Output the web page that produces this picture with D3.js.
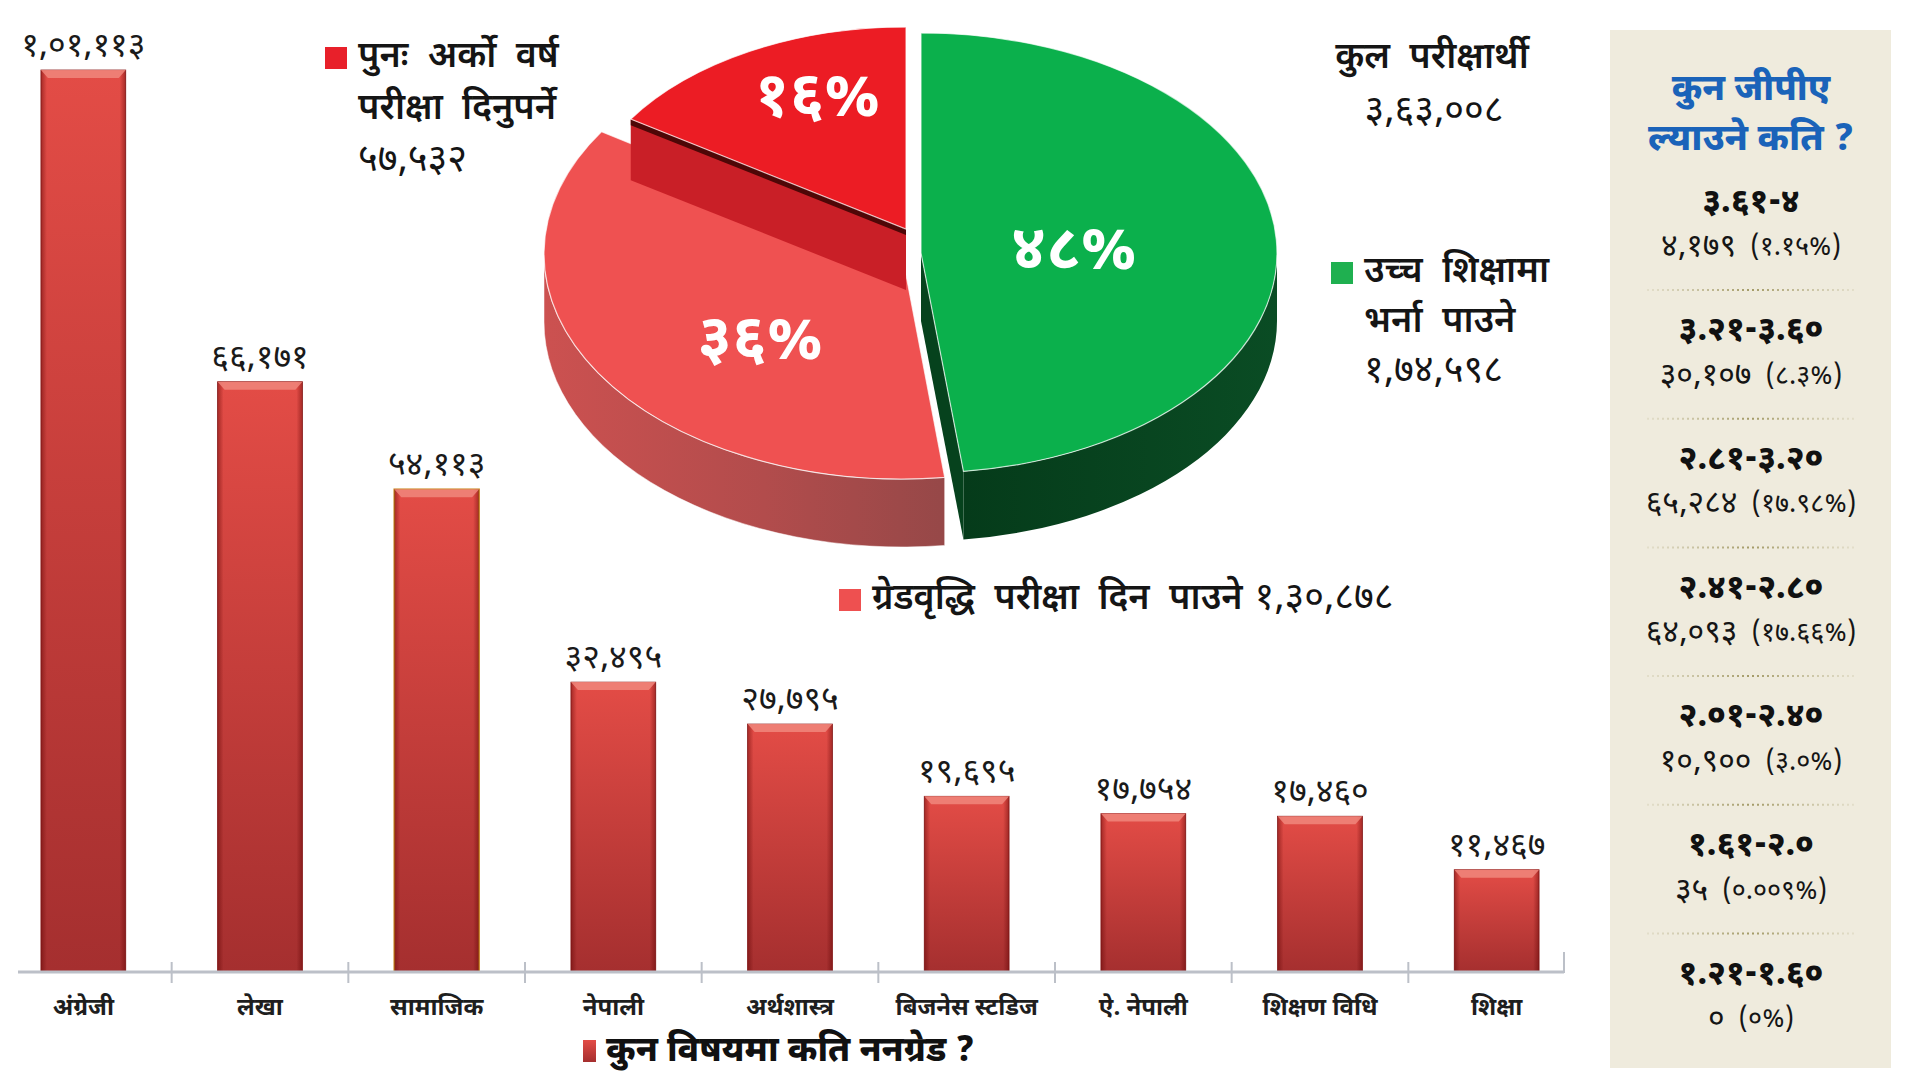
<!DOCTYPE html>
<html>
<head>
<meta charset="utf-8">
<script src="https://cdn.jsdelivr.net/npm/d3@7"></script>
<style>
  body { margin: 0; background: #fff; }
  svg text { font-family: "Noto Sans Devanagari", "Noto Sans", sans-serif; }
</style>
</head>
<body>
<div id="chart"></div>
<script>
// ---- data ----
// non-graded students by subject (bar chart)
const subjects = ["अंग्रेजी", "लेखा", "सामाजिक", "नेपाली", "अर्थशास्त्र", "बिजनेस स्टडिज", "ऐ. नेपाली", "शिक्षण विधि", "शिक्षा"];
const nonGraded = [101113, 66171, 54113, 32495, 27795, 19695, 17754, 17460, 11467];

// exam outcome (pie)
const outcomeNames = ["उच्च शिक्षामा भर्ना पाउने", "ग्रेडवृद्धि परीक्षा दिन पाउने", "पुनः अर्को वर्ष परीक्षा दिनुपर्ने"];
const outcomeCounts = [174598, 130878, 57532];

// GPA panel
const gpaRanges = ["3.61-4", "3.21-3.60", "2.81-3.20", "2.41-2.80", "2.01-2.40", "1.61-2.0", "1.21-1.60"];
const gpaCounts = [4179, 30107, 65284, 64093, 10900, 35, 0];
const gpaShares = ["1.15", "8.3", "17.98", "17.66", "3.0", "0.009", "0"];

// ---- helpers ----
const devDigits = "०१२३४५६७८९";
const toDev = s => String(s).replace(/[0-9]/g, d => devDigits[+d]);
// Nepali (lakh) grouping with devanagari digits
function nepNum(n) {
  let s = String(n);
  if (s.length <= 3) return toDev(s);
  const last = s.slice(-3);
  let rest = s.slice(0, -3);
  const parts = [];
  while (rest.length > 2) { parts.unshift(rest.slice(-2)); rest = rest.slice(0, -2); }
  if (rest) parts.unshift(rest);
  return toDev(parts.join(",") + "," + last);
}

const svg = d3.select("#chart").append("svg")
  .attr("width", 1920).attr("height", 1080)
  .style("display", "block");

const defs = svg.append("defs");

// bar gradients
const bg = defs.append("linearGradient").attr("id", "barGrad").attr("x1", 0).attr("y1", 0).attr("x2", 0).attr("y2", 1);
bg.append("stop").attr("offset", "0%").attr("stop-color", "#e34c46");
bg.append("stop").attr("offset", "100%").attr("stop-color", "#a52f2f");
const be = defs.append("linearGradient").attr("id", "barEdge").attr("x1", 0).attr("y1", 0).attr("x2", 1).attr("y2", 0);
be.append("stop").attr("offset", "0%").attr("stop-color", "#5a0000").attr("stop-opacity", 0.45);
be.append("stop").attr("offset", "7%").attr("stop-color", "#5a0000").attr("stop-opacity", 0);
be.append("stop").attr("offset", "93%").attr("stop-color", "#5a0000").attr("stop-opacity", 0);
be.append("stop").attr("offset", "100%").attr("stop-color", "#5a0000").attr("stop-opacity", 0.45);

// ---- bar chart ----
const baseY = 972;
const x = d3.scaleBand().domain(subjects).range([-5, 1585]).paddingInner(0.52).paddingOuter(0.26);
const y = d3.scaleLinear().domain([0, d3.max(nonGraded)]).range([baseY, 70]);

const bars = svg.append("g").attr("class", "bars");
const barData = subjects.map((s, i) => ({ s, v: nonGraded[i], i }));

bars.selectAll("rect.bar").data(barData).join("rect")
  .attr("class", "bar")
  .attr("x", d => x(d.s)).attr("width", x.bandwidth())
  .attr("y", d => y(d.v)).attr("height", d => baseY - y(d.v))
  .attr("fill", "url(#barGrad)")
  .attr("stroke", d => d.i === 2 ? "#c9821e" : "#8e2020")
  .attr("stroke-width", d => d.i === 2 ? 1.6 : 0.8);

bars.selectAll("rect.edge").data(barData).join("rect")
  .attr("class", "edge")
  .attr("x", d => x(d.s)).attr("width", x.bandwidth())
  .attr("y", d => y(d.v)).attr("height", d => baseY - y(d.v))
  .attr("fill", "url(#barEdge)");

// top bevel
bars.selectAll("path.bevel").data(barData).join("path")
  .attr("class", "bevel")
  .attr("d", d => {
    const x0 = x(d.s), x1 = x0 + x.bandwidth(), t = y(d.v);
    return `M${x0},${t}L${x1},${t}L${x1 - 7},${t + 8}L${x0 + 7},${t + 8}Z`;
  })
  .attr("fill", "#f0877d").attr("opacity", 0.85);

// value labels
bars.selectAll("text.val").data(barData).join("text")
  .attr("class", "val")
  .attr("x", d => x(d.s) + x.bandwidth() / 2)
  .attr("y", d => y(d.v) - 14)
  .attr("text-anchor", "middle")
  .attr("font-size", 34)
  .attr("fill", "#1a1a1a")
  .text(d => nepNum(d.v));

// axis
const axisG = svg.append("g").attr("transform", `translate(0,${baseY})`);
axisG.call(d3.axisBottom(x).tickSize(0).tickPadding(26));
axisG.select(".domain").remove();
axisG.selectAll(".tick text")
  .attr("font-size", 24).attr("font-weight", 700).attr("fill", "#1e1e1e")
  .style("font-family", "'Noto Sans Devanagari','Noto Sans',sans-serif");
axisG.append("line").attr("x1", 18).attr("x2", 1564).attr("y1", 0).attr("y2", 0)
  .attr("stroke", "#bcc0c8").attr("stroke-width", 3);
const step = x.step();
axisG.selectAll("line.bnd").data(subjects.slice(0, -1)).join("line")
  .attr("class", "bnd")
  .attr("x1", d => x(d) + x.bandwidth() + (step - x.bandwidth()) / 2)
  .attr("x2", d => x(d) + x.bandwidth() + (step - x.bandwidth()) / 2)
  .attr("y1", -10).attr("y2", 11)
  .attr("stroke", "#bcc0c8").attr("stroke-width", 2);
axisG.append("line").attr("x1", 1564).attr("x2", 1564).attr("y1", -20).attr("y2", 1)
  .attr("stroke", "#bcc0c8").attr("stroke-width", 2);

// bottom title
const tg = svg.append("g");
tg.append("rect").attr("x", 583).attr("y", 1040).attr("width", 13).attr("height", 22).attr("fill", "url(#barGrad)");
tg.append("text").attr("x", 606).attr("y", 1061)
  .attr("font-size", 35).attr("font-weight", 800).attr("fill", "#111")
  .text("कुन विषयमा कति ननग्रेड ?");

// ---- 3D pie ----
const pieArcs = d3.pie().sort(null).value(d => d)(outcomeCounts);
const total = d3.sum(outcomeCounts);
// per-slice placement of the tilted pie pieces
const sliceGeom = [
  { cx: 921, cy: 253, rx: 356, ry: 220, depth: 68, top: "#0bb04c", labelA: 90, labelR: 0.43 },
  { cx: 902, cy: 254, rx: 358, ry: 225, depth: 68, top: "#ef5151", labelA: 225, labelR: 0.56 },
  { cx: 906, cy: 229, rx: 328, ry: 202, depth: 61, top: "#ec1c24", labelA: 337, labelR: 0.69 }
];
const deg = Math.PI / 180;
const P = (g, a, dy = 0) => [g.cx + g.rx * Math.sin(a), g.cy - g.ry * Math.cos(a) + dy];

const gw = defs.append("linearGradient").attr("id", "greenWall").attr("x1", 0).attr("y1", 0).attr("x2", 1).attr("y2", 0);
gw.append("stop").attr("offset", "0%").attr("stop-color", "#053b1a");
gw.append("stop").attr("offset", "100%").attr("stop-color", "#0a4c24");
const rw = defs.append("linearGradient").attr("id", "redWall").attr("x1", 0).attr("y1", 0).attr("x2", 1).attr("y2", 0);
rw.append("stop").attr("offset", "0%").attr("stop-color", "#cc5150");
rw.append("stop").attr("offset", "55%").attr("stop-color", "#b24c4c");
rw.append("stop").attr("offset", "100%").attr("stop-color", "#964848");

function wallPath(g, a0, a1) {
  const b0 = Math.max(a0, 90 * deg), b1 = Math.min(a1, 270 * deg);
  if (b1 <= b0) return null;
  const p0 = P(g, b0), p1 = P(g, b1), q1 = P(g, b1, g.depth), q0 = P(g, b0, g.depth);
  return `M${p0}A${g.rx},${g.ry} 0 0 1 ${p1}L${q1}A${g.rx},${g.ry} 0 0 0 ${q0}Z`;
}
function radialFace(g, a) {
  const c = [g.cx, g.cy], e = P(g, a);
  return `M${c}L${e}L${e[0]},${e[1] + g.depth}L${c[0]},${c[1] + g.depth}Z`;
}

const pieG = svg.append("g").attr("class", "pie");
const unitArc = d3.arc().innerRadius(0).outerRadius(100);

function drawTop(i) {
  const g = sliceGeom[i];
  pieG.append("path")
    .attr("transform", `translate(${g.cx},${g.cy}) scale(${g.rx / 100},${g.ry / 100})`)
    .attr("d", unitArc(pieArcs[i]))
    .attr("fill", g.top)
    .attr("stroke", "#fff").attr("stroke-opacity", 0.7).attr("stroke-width", 1.2)
    .attr("vector-effect", "non-scaling-stroke");
}

// green slice
pieG.append("path").attr("d", wallPath(sliceGeom[0], pieArcs[0].startAngle, pieArcs[0].endAngle)).attr("fill", "url(#greenWall)");
pieG.append("path").attr("d", radialFace(sliceGeom[0], pieArcs[0].endAngle)).attr("fill", "#06421d");
drawTop(0);
// grade-increment slice
pieG.append("path").attr("d", wallPath(sliceGeom[1], pieArcs[1].startAngle, pieArcs[1].endAngle)).attr("fill", "url(#redWall)")
  .attr("stroke", "#fff").attr("stroke-opacity", 0.5).attr("stroke-width", 1);
drawTop(1);
// repeat-exam slice (raised piece, front face visible)
pieG.append("path").attr("d", radialFace(sliceGeom[2], pieArcs[2].startAngle)).attr("fill", "#c91f27");
{
  const g = sliceGeom[2], c = [g.cx, g.cy], e = P(g, pieArcs[2].startAngle);
  pieG.append("path").attr("d", `M${c}L${e}L${e[0]},${e[1] + 6}L${c[0]},${c[1] + 6}Z`).attr("fill", "#4e0707");
}
drawTop(2);

// percentage labels
pieG.selectAll("text.pct").data(pieArcs).join("text")
  .attr("class", "pct")
  .attr("x", (d, i) => { const g = sliceGeom[i]; return g.cx + g.rx * g.labelR * Math.sin(g.labelA * deg); })
  .attr("y", (d, i) => { const g = sliceGeom[i]; return g.cy - g.ry * g.labelR * Math.cos(g.labelA * deg); })
  .attr("text-anchor", "middle").attr("dominant-baseline", "central")
  .attr("font-size", 62).attr("font-weight", 700).attr("fill", "#fff")
  .text(d => toDev(Math.round(d.value / total * 100)) + "%");

// pie annotations
const ann = svg.append("g").attr("fill", "#151515");
function legendBlock(xs, ys, color, lines, num, lh) {
  ann.append("rect").attr("x", xs).attr("y", ys - 11).attr("width", 22).attr("height", 22).attr("fill", color);
  lines.forEach((t, k) => ann.append("text").attr("x", xs + 33).attr("y", ys + k * lh)
    .attr("dominant-baseline", "central").attr("font-size", 36).attr("font-weight", 600)
    .attr("word-spacing", 10).text(t));
  ann.append("text").attr("x", xs + 33).attr("y", ys + lines.length * lh)
    .attr("dominant-baseline", "central").attr("font-size", 38).text(num);
}
legendBlock(325, 58, "#e8202a", ["पुनः अर्को वर्ष", "परीक्षा दिनुपर्ने"], nepNum(outcomeCounts[2]), 52);
legendBlock(1331, 273, "#1fb050", ["उच्च शिक्षामा", "भर्ना पाउने"], nepNum(outcomeCounts[0]), 50);

ann.append("rect").attr("x", 839).attr("y", 589).attr("width", 22).attr("height", 22).attr("fill", "#ee5050");
const gt = ann.append("text").attr("x", 872).attr("y", 600).attr("dominant-baseline", "central")
  .attr("font-size", 36).attr("font-weight", 600).attr("word-spacing", 10);
gt.append("tspan").text(outcomeNames[1]);
gt.append("tspan").attr("dx", 12).attr("font-weight", 400).attr("font-size", 38).text(nepNum(outcomeCounts[1]));

ann.append("text").attr("x", 1432).attr("y", 59).attr("text-anchor", "middle").attr("dominant-baseline", "central")
  .attr("font-size", 36).attr("font-weight", 600).attr("word-spacing", 10).text("कुल परीक्षार्थी");
ann.append("text").attr("x", 1434).attr("y", 113).attr("text-anchor", "middle").attr("dominant-baseline", "central")
  .attr("font-size", 38).text(nepNum(total));

// ---- GPA panel ----
const panel = svg.append("g");
panel.append("rect").attr("x", 1610).attr("y", 30).attr("width", 281).attr("height", 1038).attr("fill", "#efebdd");
const pcx = 1751;
panel.append("text").attr("x", pcx).attr("y", 91).attr("text-anchor", "middle").attr("dominant-baseline", "central")
  .attr("font-size", 36).attr("font-weight", 800).attr("fill", "#1a63b9").text("कुन जीपीए");
panel.append("text").attr("x", pcx).attr("y", 141).attr("text-anchor", "middle").attr("dominant-baseline", "central")
  .attr("font-size", 37).attr("font-weight", 800).attr("fill", "#1a63b9").text("ल्याउने कति ?");

const sepGrad = defs.append("linearGradient").attr("id", "sepGrad").attr("gradientUnits", "userSpaceOnUse")
  .attr("x1", 1647).attr("x2", 1855).attr("y1", 0).attr("y2", 0);
sepGrad.append("stop").attr("offset", "0%").attr("stop-color", "#b3ab80").attr("stop-opacity", 0.2);
sepGrad.append("stop").attr("offset", "50%").attr("stop-color", "#a39a66").attr("stop-opacity", 1);
sepGrad.append("stop").attr("offset", "100%").attr("stop-color", "#b3ab80").attr("stop-opacity", 0.2);

const rowY = d3.scaleLinear().domain([0, 1]).range([203, 331.7]);
const rows = panel.selectAll("g.row").data(gpaRanges.map((r, i) => ({ r, c: gpaCounts[i], p: gpaShares[i], i })))
  .join("g").attr("class", "row");
rows.append("text").attr("x", pcx).attr("y", d => rowY(d.i)).attr("text-anchor", "middle").attr("dominant-baseline", "central")
  .attr("font-size", 33).attr("font-weight", 800).attr("fill", "#111").text(d => toDev(d.r));
const ct = rows.append("text").attr("x", pcx).attr("y", d => rowY(d.i) + 45).attr("text-anchor", "middle").attr("dominant-baseline", "central")
  .attr("fill", "#151515");
ct.append("tspan").attr("font-size", 32).text(d => nepNum(d.c));
ct.append("tspan").attr("dx", 14).attr("font-size", 27).text(d => "(" + toDev(d.p) + "%)");
rows.filter(d => d.i < gpaRanges.length - 1).append("line")
  .attr("x1", 1647).attr("x2", 1855).attr("y1", d => rowY(d.i) + 87).attr("y2", d => rowY(d.i) + 87)
  .attr("stroke", "url(#sepGrad)").attr("stroke-width", 2).attr("stroke-dasharray", "2,3");
</script>
</body>
</html>
